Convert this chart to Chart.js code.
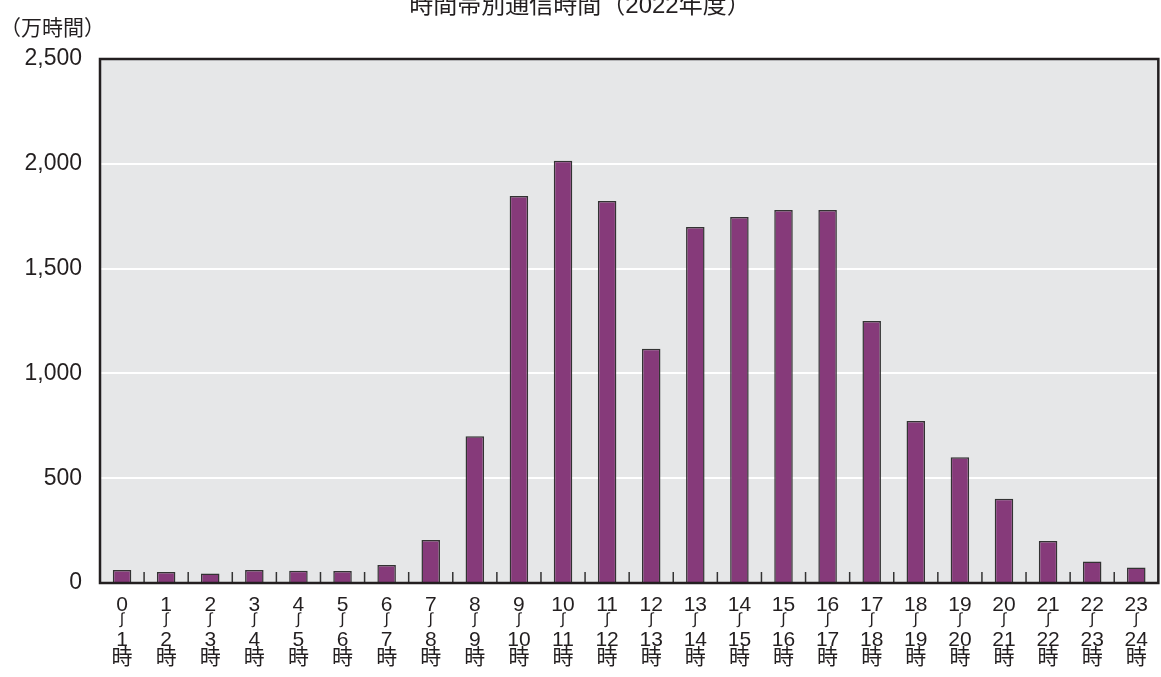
<!DOCTYPE html>
<html>
<head>
<meta charset="utf-8">
<script src="https://cdn.jsdelivr.net/npm/chart.js@4"></script>
<style>
  body { margin: 0; background: #fff; }
  canvas { display: block; }
</style>
</head>
<body>
<canvas id="myChart" width="1161" height="677"></canvas>
<script>
const hours = ['0','1','2','3','4','5','6','7','8','9','10','11','12','13','14','15','16','17','18','19','20','21','22','23'];
const commHours = [62, 52, 45, 62, 58, 57, 86, 205, 700, 1846, 2015, 1822, 1118, 1698, 1746, 1780, 1780, 1250, 773, 600, 402, 200, 103, 74];
const yTicks = [0, 500, 1000, 1500, 2000, 2500];
const chartTitle = '時間帯別通信時間（2022年度）';
const unitLabel = '（万時間）';
const waveMark = '∫';

// second line left empty: the wave mark is drawn by the plugin
const labels = hours.map(h => [h, '', String(Number(h) + 1), '時']);
const font = "'Liberation Sans', 'Noto Sans CJK JP', sans-serif";

const frame = {
  id: 'frame',
  beforeDraw(chart) {
    const { ctx, chartArea: a } = chart;
    ctx.save();
    ctx.fillStyle = '#e6e7e8';
    ctx.fillRect(a.left, a.top, a.right - a.left, a.bottom - a.top);
    ctx.restore();
  },
  afterDatasetsDraw(chart) {
    const { ctx, chartArea: a, scales } = chart;
    ctx.save();
    // short inward ticks between categories
    ctx.strokeStyle = '#333';
    ctx.lineWidth = 1.5;
    for (let i = 1; i < hours.length; i++) {
      const x = (scales.x.getPixelForValue(i - 1) + scales.x.getPixelForValue(i)) / 2;
      ctx.beginPath();
      ctx.moveTo(x, a.bottom);
      ctx.lineTo(x, a.bottom - 11);
      ctx.stroke();
    }
    ctx.strokeStyle = '#231f20';
    ctx.lineWidth = 2.5;
    ctx.strokeRect(a.left, a.top, a.right - a.left, a.bottom - a.top);

    ctx.fillStyle = '#231f20';
    // wave marks between the hour numbers
    ctx.font = "16px " + font;
    ctx.textAlign = 'center';
    ctx.textBaseline = 'middle';
    for (let i = 0; i < hours.length; i++) {
      ctx.fillText(waveMark, scales.x.getPixelForValue(i), a.bottom + 37);
    }
    // titles
    ctx.font = "24px " + font;
    ctx.textBaseline = 'alphabetic';
    ctx.fillText(chartTitle, 580, 13);
    ctx.font = "21px " + font;
    ctx.textAlign = 'left';
    ctx.textBaseline = 'middle';
    ctx.fillText(unitLabel, 0, 29);
    ctx.restore();
  }
};

new Chart(document.getElementById('myChart'), {
  type: 'bar',
  data: {
    labels: labels,
    datasets: [{
      data: commHours,
      backgroundColor: '#863a7a',
      borderColor: '#333',
      borderWidth: 1.5,
      barPercentage: 0.42,
      categoryPercentage: 1
    }]
  },
  options: {
    responsive: false,
    animation: false,
    layout: { padding: { top: 59, right: 2, left: 0, bottom: 0 } },
    plugins: {
      legend: { display: false },
      tooltip: { enabled: false }
    },
    scales: {
      x: {
        afterFit(scale) { scale.height = 94; },
        grid: { display: false, drawTicks: false },
        border: { display: false },
        ticks: {
          color: '#231f20',
          padding: 13,
          maxRotation: 0,
          autoSkip: false,
          font: { family: font, size: 21, lineHeight: 0.85 }
        }
      },
      y: {
        min: 0,
        max: 2500,
        afterFit(scale) { scale.width = 100; },
        afterBuildTicks(scale) { scale.ticks = yTicks.map(v => ({ value: v })); },
        grid: {
          color: ctx => (ctx.tick && (ctx.tick.value === 0 || ctx.tick.value === 2500)) ? 'rgba(0,0,0,0)' : '#ffffff',
          lineWidth: 2,
          drawTicks: false
        },
        border: { display: false },
        ticks: {
          color: '#231f20',
          padding: 18,
          font: { family: font, size: 23 },
          callback: v => v.toLocaleString('en-US')
        }
      }
    }
  },
  plugins: [frame]
});
</script>
</body>
</html>
